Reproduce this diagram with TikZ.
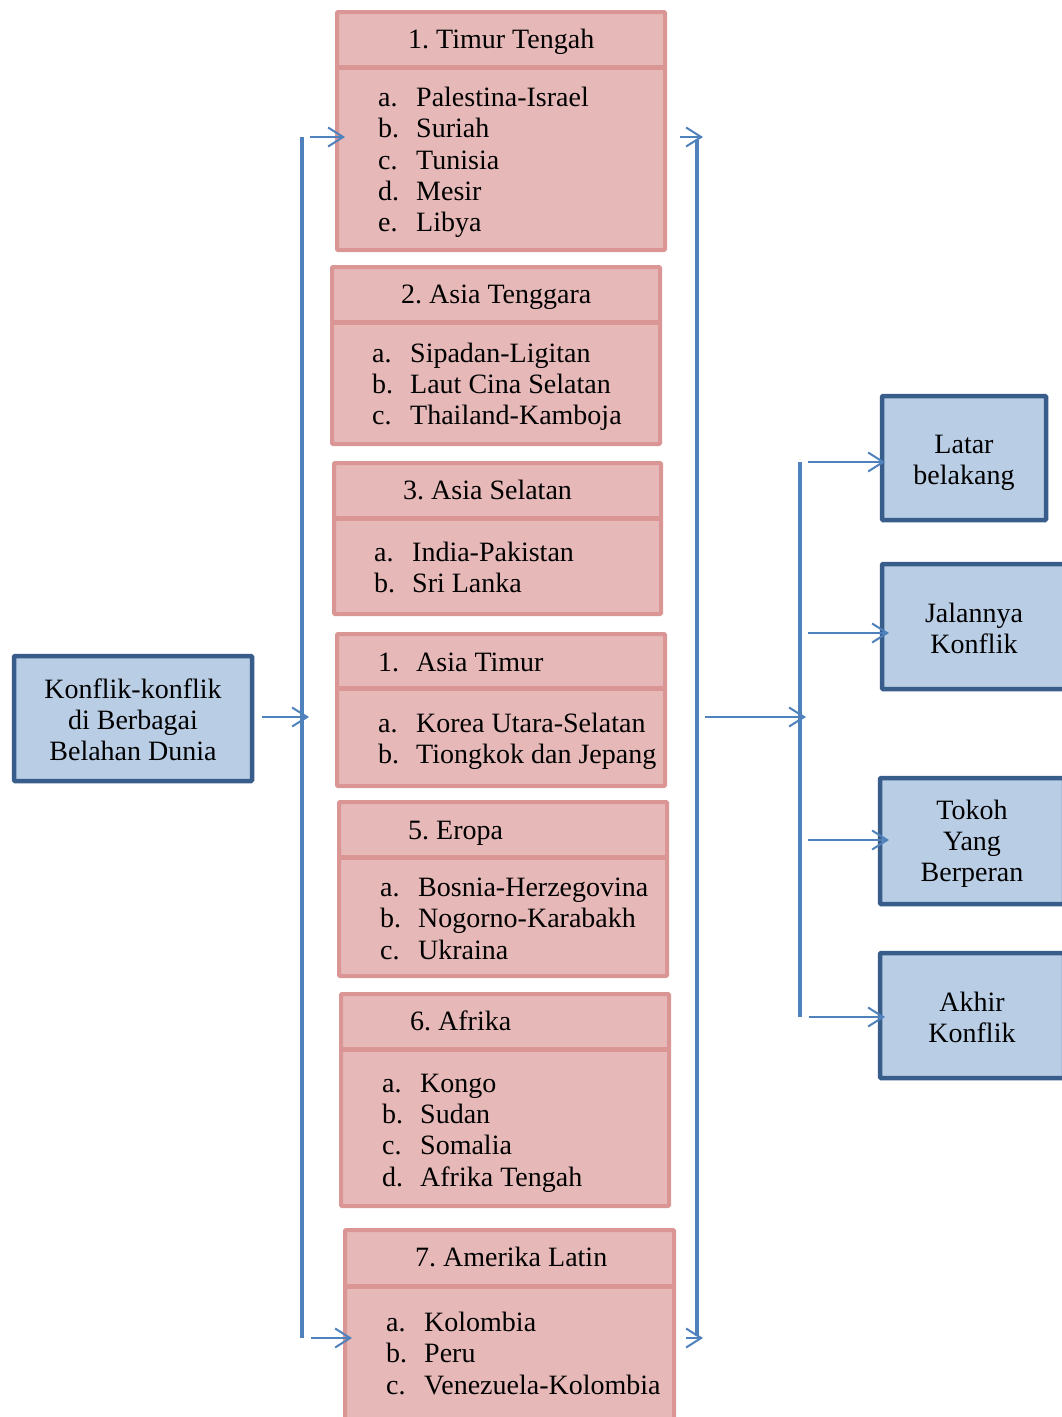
\documentclass[tikz,border=0pt]{standalone}
\usepackage{fontspec}
\setmainfont{Liberation Serif}
\usetikzlibrary{arrows.meta}
\definecolor{redfill}{HTML}{E6B9B8}
\definecolor{redline}{HTML}{D99694}
\definecolor{bluefill}{HTML}{B9CDE5}
\definecolor{blueline}{HTML}{385D8A}
\definecolor{conn}{HTML}{4F81BD}
\frenchspacing
\newcommand\itm[5]{%
  \node[txt] (#1l) at (#2,#3) {#4};
  \node[txt] (#1t) at (#2+38,#3) {#5};}
\begin{document}
\begin{tikzpicture}[x=1pt,y=-1pt,
  redbox/.style={draw=redline, fill=redfill, line width=4pt, rectangle, inner sep=0pt, rounded corners=1pt},
  divline/.style={draw=redline, line width=5pt},
  bluebox/.style={draw=blueline, fill=bluefill, line width=4.5pt, rectangle, inner sep=0pt, rounded corners=1pt},
  btxt/.style={align=center, inner sep=0pt, font=\fontsize{28}{31}\selectfont},
  txt/.style={anchor=base west, inner sep=0pt, font=\fontsize{28}{31}\selectfont},
  vline/.style={draw=conn, line width=3.5pt},
  arr/.style={draw=conn, line width=2pt, -{Straight Barb[length=15pt,width=19pt,line width=2pt]}}]
\useasboundingbox (0,0) rectangle (1062,1417);
\clip (0,0) rectangle (1062,1417);
\fill[white] (0,0) rectangle (1062,1417);

% ---- red boxes ----
\node[redbox, minimum width=328pt, minimum height=238pt] (b1) at (501,131) {};
\node[redbox, minimum width=328pt, minimum height=177pt] (b2) at (496,355.5) {};
\node[redbox, minimum width=327pt, minimum height=151pt] (b3) at (497.5,538.5) {};
\node[redbox, minimum width=328pt, minimum height=152pt] (b4) at (501,710) {};
\node[redbox, minimum width=328pt, minimum height=174pt] (b5) at (503,889) {};
\node[redbox, minimum width=328pt, minimum height=212pt] (b6) at (505,1100) {};
\node[redbox, minimum width=329pt, minimum height=210pt] (b7) at (509.5,1335) {};

\coordinate (d1) at (0,67);
\coordinate (d2) at (0,322);
\coordinate (d3) at (0,518);
\coordinate (d4) at (0,688);
\coordinate (d5) at (0,857);
\coordinate (d6) at (0,1049);
\coordinate (d7) at (0,1286);
\foreach \i in {1,...,7}{
  \draw[divline] (b\i.west |- d\i) -- (b\i.east |- d\i);
}

% headers
\node[txt] (h1) at (408,48) {1. Timur Tengah};
\node[txt] (h2) at (401,303) {2. Asia Tenggara};
\node[txt] (h3) at (403,499) {3. Asia Selatan};
\node[txt] (h4n) at (378,671) {1.};
\node[txt] (h4) at (416,671) {Asia Timur};
\node[txt] (h5) at (408,839) {5. Eropa};
\node[txt] (h6) at (410,1030) {6. Afrika};
\node[txt] (h7) at (415,1266) {7. Amerika Latin};

% items
\itm{i1a}{378}{106}{a.}{Palestina-Israel}
\itm{i1b}{378}{137}{b.}{Suriah}
\itm{i1c}{378}{169}{c.}{Tunisia}
\itm{i1d}{378}{200}{d.}{Mesir}
\itm{i1e}{378}{231}{e.}{Libya}

\itm{i2a}{372}{362}{a.}{Sipadan-Ligitan}
\itm{i2b}{372}{393}{b.}{Laut Cina Selatan}
\itm{i2c}{372}{424}{c.}{Thailand-Kamboja}

\itm{i3a}{374}{561}{a.}{India-Pakistan}
\itm{i3b}{374}{592}{b.}{Sri Lanka}

\itm{i4a}{378}{732}{a.}{Korea Utara-Selatan}
\itm{i4b}{378}{763}{b.}{Tiongkok dan Jepang}

\itm{i5a}{380}{896}{a.}{Bosnia-Herzegovina}
\itm{i5b}{380}{927}{b.}{Nogorno-Karabakh}
\itm{i5c}{380}{959}{c.}{Ukraina}

\itm{i6a}{382}{1092}{a.}{Kongo}
\itm{i6b}{382}{1123}{b.}{Sudan}
\itm{i6c}{382}{1154}{c.}{Somalia}
\itm{i6d}{382}{1186}{d.}{Afrika Tengah}

\itm{i7a}{386}{1331}{a.}{Kolombia}
\itm{i7b}{386}{1362}{b.}{Peru}
\itm{i7c}{386}{1394}{c.}{Venezuela-Kolombia}

% ---- blue boxes ----
\node[bluebox, minimum width=238pt, minimum height=125pt] (L) at (133,718.5) {};
\node[btxt] (Lt) at (133,719.5) {Konflik-konflik\\di Berbagai\\Belahan Dunia};
\node[bluebox, minimum width=164pt, minimum height=124pt] (r1) at (964,458) {};
\node[btxt] (r1t) at (964,463) {Latar\\belakang};
\node[bluebox, minimum width=184pt, minimum height=125pt] (r2) at (974,626.5) {};
\node[btxt] (r2t) at (974,628.5) {Jalannya\\Konflik};
\node[bluebox, minimum width=184pt, minimum height=126pt] (r3) at (972,841) {};
\node[btxt] (r3t) at (972,844) {Tokoh\\Yang\\Berperan};
\node[bluebox, minimum width=184pt, minimum height=125pt] (r4) at (972,1015.5) {};
\node[btxt] (r4t) at (972,1017.5) {Akhir\\Konflik};

% ---- connectors ----
\coordinate (v1t) at (302,137);
\coordinate (v1b) at (302,1338);
\draw[vline] (v1t) -- (v1b);
\coordinate (a0s) at (262,717);
\coordinate (a0e) at (309,717);
\draw[arr] (a0s) -- (a0e);
\coordinate (a1s) at (310,137);
\coordinate (a1e) at (345,137);
\draw[arr] (a1s) -- (a1e);
\coordinate (a7s) at (311,1338);
\coordinate (a7e) at (352,1338);
\draw[arr] (a7s) -- (a7e);

\coordinate (v2t) at (697,140);
\coordinate (v2b) at (697,1336);
\draw[vline] (v2t) -- (v2b);
\coordinate (c1s) at (680,137);
\coordinate (c1e) at (703,137);
\draw[arr] (c1s) -- (c1e);
\coordinate (c7s) at (686,1338);
\coordinate (c7e) at (703,1338);
\draw[arr] (c7s) -- (c7e);

\coordinate (m0s) at (705,717);
\coordinate (m0e) at (806,717);
\draw[arr] (m0s) -- (m0e);

\coordinate (v3t) at (800,462);
\coordinate (v3b) at (800,1017);
\draw[vline] (v3t) -- (v3b);
\coordinate (e1s) at (808,462);
\coordinate (e1e) at (885,462);
\draw[arr] (e1s) -- (e1e);
\coordinate (e2s) at (808,633);
\coordinate (e2e) at (889,633);
\draw[arr] (e2s) -- (e2e);
\coordinate (e3s) at (808,840);
\coordinate (e3e) at (889,840);
\draw[arr] (e3s) -- (e3e);
\coordinate (e4s) at (809,1017);
\coordinate (e4e) at (885,1017);
\draw[arr] (e4s) -- (e4e);
\end{tikzpicture}
\end{document}
